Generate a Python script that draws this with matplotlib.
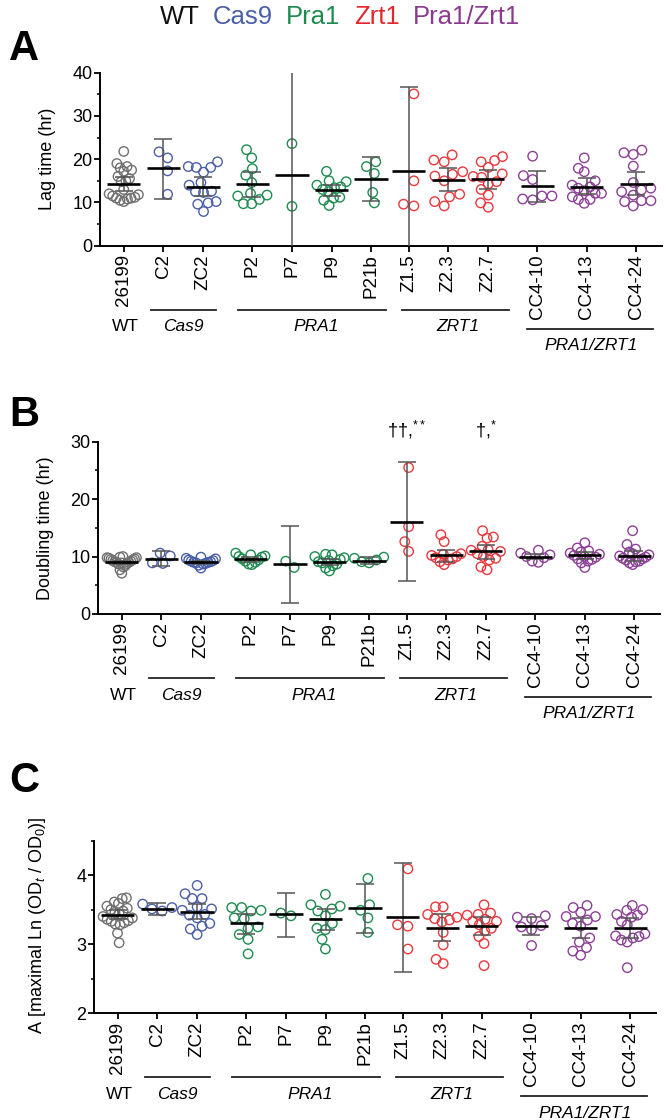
import numpy as np
import matplotlib
matplotlib.use('Agg')
import matplotlib.pyplot as plt
from matplotlib import transforms

plt.rcParams['font.family'] = ['Liberation Sans', 'DejaVu Sans']
plt.rcParams['mathtext.fontset'] = 'custom'
plt.rcParams['mathtext.rm'] = 'Liberation Sans'
plt.rcParams['mathtext.it'] = 'Liberation Sans:italic'

# ---------------- data ----------------
strains = ['26199', 'C2', 'ZC2', 'P2', 'P7', 'P9', 'P21b',
           'Z1.5', 'Z2.3', 'Z2.7', 'CC4-10', 'CC4-13', 'CC4-24']
strain_group = ['WT', 'Cas9', 'Cas9', 'Pra1', 'Pra1', 'Pra1', 'Pra1',
                'Zrt1', 'Zrt1', 'Zrt1', 'Pra1/Zrt1', 'Pra1/Zrt1', 'Pra1/Zrt1']

legend_names = ['WT', 'Cas9', 'Pra1', 'Zrt1', 'Pra1/Zrt1']
legend_colors = ['#111111', '#4a5fa8', '#1d8a4e', '#e3262b', '#8b3a8f']
point_colors = {'WT': '#707070', 'Cas9': '#4a5fa8', 'Pra1': '#1f8b50',
                'Zrt1': '#e8383d', 'Pra1/Zrt1': '#8d3f97'}

group_labels = ['WT', 'Cas9', 'PRA1', 'ZRT1', 'PRA1/ZRT1']
group_label_x = [0.03, 1.5, 4.85, 8.45, 11.8]
group_line_start = [None, 0.70, 2.88, 7.03, 10.19]
group_line_end = [None, 2.32, 6.63, 9.73, 13.38]
group_low_row = [False, False, False, False, True]

# Panel A: lag time (hr)
lag_time = [
    [21.8, 19.0, 18.3, 18.0, 17.5, 17.2, 16.0, 15.5, 15.0, 14.8,
     13.0, 12.0, 11.8, 11.5, 11.2, 11.0, 11.0, 10.8, 10.5, 10.2],
    [21.7, 20.3, 17.3, 11.9],
    [19.4, 18.1, 18.1, 18.3, 17.0, 14.6, 14.0, 12.6, 12.5, 12.3, 9.9, 9.6, 10.2, 7.9],
    [22.2, 20.3, 17.8, 16.3, 14.6, 12.1, 11.7, 11.5, 10.7, 9.7, 9.7],
    [23.6, 9.1],
    [17.2, 15.0, 14.8, 14.0, 13.6, 13.4, 13.0, 12.5, 11.2, 11.0, 10.5, 9.3],
    [19.4, 18.3, 16.7, 12.3, 9.9],
    [35.1, 15.0, 9.6, 9.2],
    [21.0, 19.8, 19.4, 17.1, 16.5, 16.1, 15.0, 11.9, 11.3, 10.2, 9.2],
    [20.6, 19.7, 19.4, 18.1, 16.6, 16.0, 15.8, 14.8, 14.3, 13.0, 11.7, 9.9, 8.9],
    [20.7, 16.2, 15.3, 11.5, 11.5, 10.6, 10.8],
    [20.3, 17.9, 17.1, 15.0, 14.0, 13.6, 12.7, 13.3, 12.1, 12.1, 11.3, 10.7, 10.7, 9.8],
    [21.5, 21.1, 22.1, 18.4, 14.6, 13.3, 12.9, 12.5, 11.7, 10.4, 10.2, 10.4, 9.2],
]
lag_mean = [14.2, 17.9, 13.6, 14.3, 16.4, 12.9, 15.4, 17.3, 15.3, 15.4, 13.8, 13.6, 14.3]
lag_ci_low = [12.6, 10.9, 11.5, 11.3, -74.0, 11.5, 10.3, -2.2, 12.6, 13.0, 10.2, 11.9, 11.7]
lag_ci_high = [15.9, 24.7, 15.8, 17.1, 107.0, 14.0, 20.4, 36.6, 18.0, 17.5, 17.3, 15.6, 17.0]

# Panel B: doubling time (hr)
doubling_time = [
    [10.0, 9.9, 9.8, 9.8, 9.7, 9.6, 9.5, 9.4, 9.3, 9.2,
     9.1, 9.0, 9.0, 8.9, 8.8, 8.7, 8.4, 8.2, 7.7, 7.1],
    [10.6, 10.1, 8.9, 8.8],
    [9.9, 9.7, 9.6, 9.4, 9.3, 9.2, 9.1, 9.0, 9.0, 8.9, 8.8, 8.7, 8.5, 8.0],
    [10.6, 10.3, 10.1, 10.0, 9.9, 9.6, 9.4, 9.2, 9.0, 8.7, 8.6],
    [9.2, 8.1],
    [10.4, 10.3, 10.0, 9.8, 9.5, 9.3, 9.1, 8.9, 8.7, 8.4, 8.0, 7.5],
    [9.9, 9.7, 9.4, 9.1, 8.9],
    [25.5, 15.2, 12.6, 10.9],
    [13.8, 12.6, 10.5, 10.4, 10.2, 10.0, 9.8, 9.6, 9.4, 9.1, 8.6],
    [14.5, 13.4, 13.2, 11.8, 11.2, 11.1, 10.9, 10.5, 10.0, 9.7, 9.4, 8.2, 7.7],
    [11.1, 10.6, 10.3, 10.0, 9.8, 9.2, 9.0],
    [12.4, 11.5, 11.0, 10.8, 10.6, 10.4, 10.2, 10.0, 9.9, 9.6, 9.5, 9.2, 8.9, 8.1],
    [14.5, 12.1, 11.3, 10.8, 10.5, 10.3, 10.1, 9.9, 9.7, 9.6, 9.4, 9.2, 9.1, 8.9, 8.6],
]
dbl_mean = [9.0, 9.6, 9.0, 9.5, 8.7, 9.0, 9.3, 16.1, 10.2, 10.9, 10.0, 10.2, 10.1]
dbl_ci_low = [8.7, 8.3, 8.75, 9.1, 1.9, 8.5, 8.7, 5.7, 9.1, 9.6, 9.5, 9.6, 9.2]
dbl_ci_high = [9.3, 10.9, 9.3, 9.9, 15.4, 9.6, 9.9, 26.5, 11.2, 12.1, 10.5, 10.8, 11.0]
dbl_marks = ['††,$^{**}$', '†,$^{*}$']
dbl_mark_strain = ['Z1.5', 'Z2.7']
dbl_mark_y = [32.0, 32.0]

# Panel C: A [maximal Ln(ODt/OD0)]
max_ln = [
    [3.67, 3.66, 3.61, 3.59, 3.55, 3.52, 3.50, 3.48, 3.46, 3.44,
     3.40, 3.38, 3.36, 3.34, 3.33, 3.31, 3.29, 3.28, 3.16, 3.02],
    [3.58, 3.53, 3.51, 3.48],
    [3.85, 3.73, 3.66, 3.66, 3.54, 3.51, 3.49, 3.43, 3.42, 3.38, 3.30, 3.26, 3.22, 3.14],
    [3.53, 3.53, 3.49, 3.48, 3.38, 3.37, 3.25, 3.23, 3.14, 3.07, 2.86],
    [3.45, 3.41],
    [3.72, 3.57, 3.55, 3.51, 3.48, 3.41, 3.30, 3.23, 3.21, 3.07, 2.93],
    [3.95, 3.57, 3.49, 3.38, 3.17],
    [4.09, 3.28, 3.26, 2.93],
    [3.54, 3.54, 3.43, 3.39, 3.37, 3.35, 3.32, 3.17, 2.99, 2.78, 2.72],
    [3.57, 3.45, 3.43, 3.42, 3.36, 3.33, 3.33, 3.28, 3.23, 3.19, 3.11, 3.01, 2.69],
    [3.41, 3.39, 3.37, 3.27, 3.25, 3.21, 2.98],
    [3.56, 3.53, 3.46, 3.40, 3.40, 3.35, 3.30, 3.26, 3.09, 3.03, 2.95, 2.90, 2.84],
    [3.56, 3.50, 3.49, 3.43, 3.42, 3.39, 3.33, 3.28, 3.15, 3.12, 3.11, 3.09, 3.06, 3.03, 2.66],
]
ln_mean = [3.42, 3.51, 3.46, 3.30, 3.43, 3.36, 3.52, 3.39, 3.23, 3.27, 3.27, 3.23, 3.24]
ln_ci_low = [3.36, 3.42, 3.36, 3.15, 3.11, 3.20, 3.16, 2.60, 3.05, 3.13, 3.14, 3.09, 3.09]
ln_ci_high = [3.49, 3.60, 3.58, 3.44, 3.74, 3.51, 3.87, 4.18, 3.43, 3.39, 3.40, 3.38, 3.38]

# ---------------- layout ----------------
W, H = 666, 1120
positions = np.array([0, 1, 2, 3.25, 4.25, 5.25, 6.25, 7.2, 8.2, 9.2, 10.45, 11.7, 12.95])
XLIM = (-0.6, 13.6)
SWARM_HALF = 0.37   # max horizontal half-width of a swarm (x units)

fig = plt.figure(figsize=(W / 100, H / 100), dpi=100)


def fx(px):
    return px / W


def fy(py):
    return 1 - py / H


def make_axes(left, right, top, bottom):
    return fig.add_axes([fx(left), fy(bottom), fx(right - left), (bottom - top) / H])


def swarm_offsets(py, d):
    order = np.argsort(py)
    placed = []
    offs = np.zeros(len(py))
    for i in order:
        y = py[i]
        cands = [0.0]
        for (qx, qy) in placed:
            dy = y - qy
            if abs(dy) < d:
                dx = np.sqrt(d * d - dy * dy)
                cands += [qx + dx, qx - dx]
        cands = sorted(cands, key=lambda c: (abs(c), c))
        for c in cands:
            ok = all((c - qx) ** 2 + (y - qy) ** 2 >= d * d - 1e-6 for qx, qy in placed)
            if ok:
                offs[i] = c
                placed.append((c, y))
                break
    if len(offs) > 1:
        offs = offs - (offs.max() + offs.min()) / 2
    return offs


def draw_panel(ax, values, means, lo, hi, ylim, major, minor, ytick_fs):
    ax.set_xlim(*XLIM)
    ax.set_ylim(*ylim)
    for s in ['top', 'right']:
        ax.spines[s].set_visible(False)
    for s in ['left', 'bottom']:
        ax.spines[s].set_linewidth(1.4)
    ax.set_yticks(major)
    ax.set_yticks(minor, minor=True)
    ax.set_xticks(positions)
    ax.set_xticklabels(strains, rotation=90, fontsize=13.5)
    ax.tick_params(axis='y', labelsize=ytick_fs, length=4, width=1.3, pad=1.5)
    ax.tick_params(axis='y', which='minor', length=2.5, width=1.1)
    ax.tick_params(axis='x', length=4, width=1.3, pad=2)

    p0 = ax.transData.transform((0, 0))
    p1 = ax.transData.transform((1, 1))
    sx, sy = p1[0] - p0[0], p1[1] - p0[1]
    for i, vals in enumerate(values):
        v = np.array(vals, dtype=float)
        off = swarm_offsets(v * sy, 10.5) / sx
        mx = np.abs(off).max()
        if mx > SWARM_HALF:
            off = off * SWARM_HALF / mx
        col = point_colors[strain_group[i]]
        ax.scatter(positions[i] + off, v, s=46, facecolors='none', edgecolors=col,
                   linewidths=1.0, zorder=2)
    m = np.array(means)
    ax.errorbar(positions, m, yerr=[m - np.array(lo), np.array(hi) - m], fmt='none',
                ecolor='#555555', elinewidth=1.1, capsize=6.2, capthick=1.1, zorder=3)
    ax.hlines(m, positions - 0.42, positions + 0.42, colors='black', linewidth=1.9, zorder=4)

    # group annotations below the axis
    line_tr = transforms.offset_copy(ax.get_xaxis_transform(), fig=fig, y=-64, units='dots')
    line_tr_low = transforms.offset_copy(ax.get_xaxis_transform(), fig=fig, y=-83, units='dots')
    txt_tr = transforms.offset_copy(ax.get_xaxis_transform(), fig=fig, y=-81, units='dots')
    txt_tr_low = transforms.offset_copy(ax.get_xaxis_transform(), fig=fig, y=-100, units='dots')
    for name, gx, s0, s1, low in zip(group_labels, group_label_x, group_line_start,
                                     group_line_end, group_low_row):
        if s0 is not None:
            ax.plot([s0, s1], [0, 0], color='#222222', lw=1.3,
                    transform=line_tr_low if low else line_tr, clip_on=False)
        ax.text(gx, 0, name, transform=txt_tr_low if low else txt_tr, ha='center',
                va='center', fontsize=12.5, style='normal' if name == 'WT' else 'italic')


axA = make_axes(100, 662, 72.7, 245.7)
draw_panel(axA, lag_time, lag_mean, lag_ci_low, lag_ci_high, (0, 40),
           [0, 10, 20, 30, 40], [5, 15, 25, 35], 13)
axB = make_axes(98, 660, 441.7, 614)
draw_panel(axB, doubling_time, dbl_mean, dbl_ci_low, dbl_ci_high, (0, 30),
           [0, 10, 20, 30], [5, 15, 25], 13)
for mk, st, my in zip(dbl_marks, dbl_mark_strain, dbl_mark_y):
    axB.text(positions[strains.index(st)], my, mk, ha='center', va='center', fontsize=13)
axC = make_axes(94, 656, 840.5, 1013.3)
draw_panel(axC, max_ln, ln_mean, ln_ci_low, ln_ci_high, (2, 4.5),
           [2, 3, 4], [2.5, 3.5, 4.5], 13)

# y labels
fig.text(fx(47), fy(159), 'Lag time (hr)', rotation=90, ha='center', va='center', fontsize=13)
fig.text(fx(45), fy(528), 'Doubling time (hr)', rotation=90, ha='center', va='center', fontsize=13)
fig.text(fx(38), fy(925), 'A [maximal Ln (OD$_t$ / OD$_0$)]', rotation=90, ha='center',
         va='center', fontsize=13)

# panel letters
for letter, base in zip(['A', 'B', 'C'], [60, 426, 792]):
    fig.text(fx(9), fy(base), letter, ha='left', va='baseline', fontsize=30, fontweight='bold')

# colored legend on top
renderer = fig.canvas.get_renderer()
texts = []
widths = []
for name, col in zip(legend_names, legend_colors):
    t = fig.text(0, fy(24), name, color=col, fontsize=18.5, ha='left', va='baseline')
    texts.append(t)
    widths.append(t.get_window_extent(renderer).width)
gap = 13
total = sum(widths) + gap * (len(widths) - 1)
x = 340 - total / 2
for t, w in zip(texts, widths):
    t.set_x(fx(x))
    x += w + gap

fig.savefig('out.png', dpi=100)
